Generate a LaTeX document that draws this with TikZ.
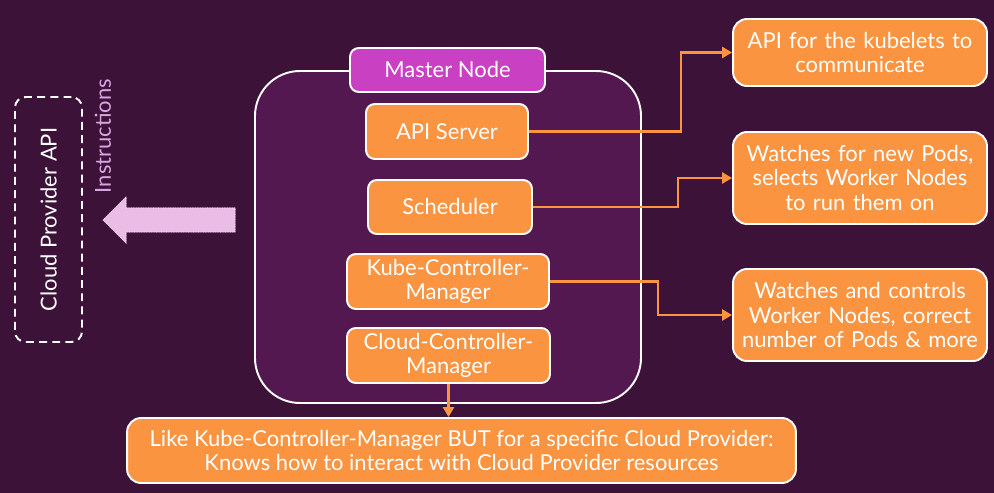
\documentclass[tikz,border=0pt]{standalone}
\usepackage{fontspec}
\setmainfont{Lato}
\usepackage{tikz}
\usetikzlibrary{arrows.meta,positioning,calc}

\definecolor{bgpurple}{HTML}{3D1238}
\definecolor{inpurple}{HTML}{52184F}
\definecolor{korange}{HTML}{FB9441}
\definecolor{kmagenta}{HTML}{C940C3}
\definecolor{kpink}{HTML}{EBBDE6}
\definecolor{klavender}{HTML}{D7A6E0}

\begin{document}
\begin{tikzpicture}[
  x=0.02cm,y=-0.02cm,
  font=\fontsize{12.5}{14}\selectfont,
  >={Triangle[length=2mm,width=2.2mm]},
  comp/.style={draw=white, fill=korange, text=white, rounded corners=5pt, align=center, inner sep=2pt, line width=1.1pt},
  note/.style={comp, rounded corners=8pt, text width=4.8cm},
  flow/.style={->, draw=korange, line width=1.4pt},
]

%% ---------- BACKGROUND ----------
\fill[bgpurple] (0,0) rectangle (994,493);

%% ---------- MASTER NODE ----------
\draw[white, fill=inpurple, line width=1.1pt, rounded corners=0.9cm] (255,71) rectangle (641,403);
\node[comp, fill=kmagenta, minimum width=3.9cm, minimum height=0.88cm] (master) at (447.5,70) {Master Node};
\node[comp, minimum width=3.24cm, minimum height=1.1cm] (api)   at (447,131.5) {API Server};
\node[comp, minimum width=3.28cm, minimum height=1.08cm] (sched) at (450,207) {Scheduler};
\node[comp, minimum width=4.04cm, minimum height=1.1cm] (kcm)   at (448,281.5) {Kube-Controller-\\Manager};
\node[comp, minimum width=4.06cm, minimum height=1.1cm] (ccm)   at (448.5,355.5) {Cloud-Controller-\\Manager};

%% ---------- DESCRIPTIONS ----------
\node[note, minimum width=5.08cm, minimum height=1.34cm] (apinote)   at (860,52.5) {API for the kubelets to\\communicate};
\node[note, minimum width=5.08cm, minimum height=1.84cm] (schednote) at (860,178) {Watches for new Pods,\\selects Worker Nodes\\to run them on};
\node[note, minimum width=5.08cm, minimum height=1.84cm] (kcmnote)   at (860,315) {Watches and controls\\Worker Nodes, correct\\number of Pods \& more};
\node[comp, rounded corners=8pt, minimum width=13.38cm, minimum height=1.3cm] (ccmnote) at (461.5,450.5)
  {Like Kube-Controller-Manager BUT for a specific Cloud Provider:\\Knows how to interact with Cloud Provider resources};

\draw[flow] (api.east)   -- ++(152,0) |- (apinote.west);
\draw[flow] (sched.east) -- ++(145,0) |- (schednote.west);
\draw[flow] (kcm.east)   -- ++(108,0) |- (kcmnote.west);
\draw[flow] (ccm.south)  -- (ccm.south |- ccmnote.north);

%% ---------- CLOUD PROVIDER ----------
\node[draw=white, dash pattern=on 4.5pt off 3pt, line width=1.1pt, rounded corners=6pt, minimum width=1.34cm, minimum height=4.9cm] (cloud) at (48.5,219.5) {};
\node[text=white, rotate=90] at (cloud.center) {Cloud Provider API};
\draw[kpink, fill=kpink, line width=0.4pt] (235,208) -- (126,208) -- (126,197) -- (103,220) -- (126,243) -- (126,232) -- (235,232) -- cycle;
\draw[white, densely dotted, line width=0.4pt] (235,208) -- (126,208) -- (126,197) -- (103,220) -- (126,243) -- (126,232) -- (235,232) -- cycle;
\node[text=klavender, rotate=90] (instr) at (103,136) {Instructions};
\end{tikzpicture}
\end{document}
